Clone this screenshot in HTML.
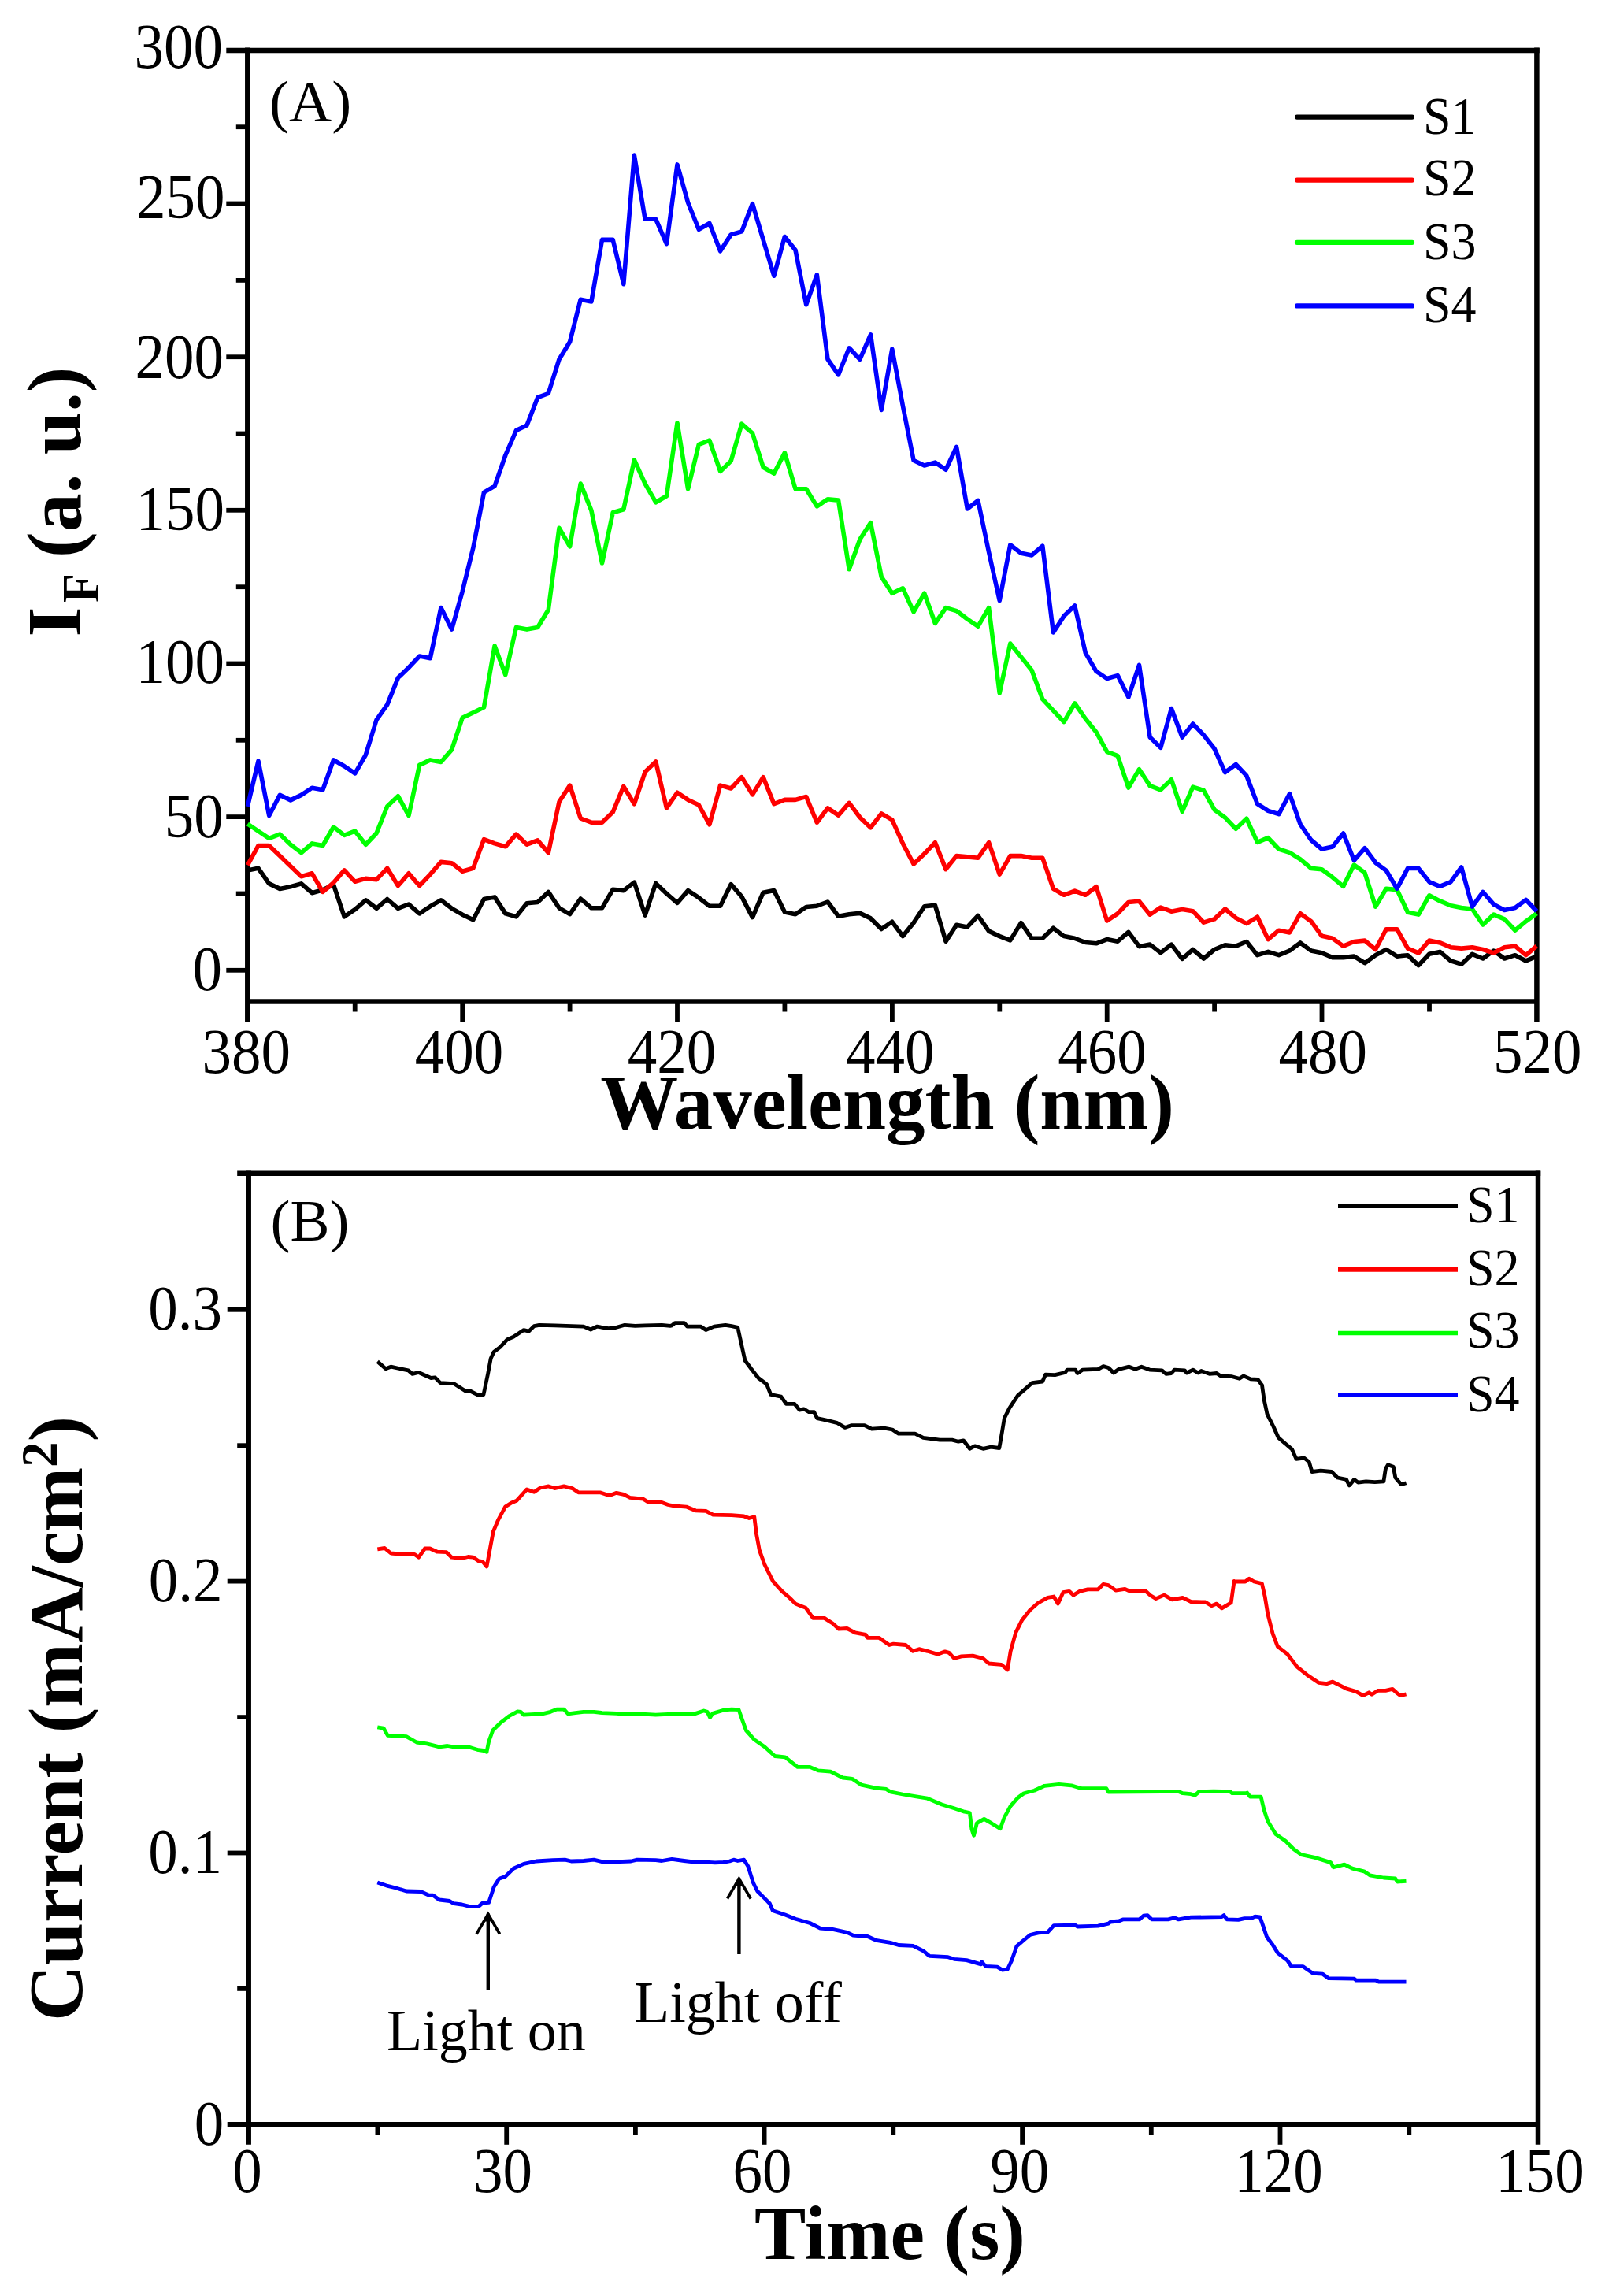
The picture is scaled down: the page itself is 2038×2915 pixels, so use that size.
<!DOCTYPE html>
<html><head><meta charset="utf-8"><title>Figure</title>
<style>html,body{margin:0;padding:0;background:#fff}svg{display:block}text{font-family:"Liberation Serif", serif;fill:#000}</style>
</head><body>
<svg width="2038" height="2915" viewBox="0 0 2038 2915">
<rect width="2038" height="2915" fill="#fff"/>
<line x1="314.3" y1="60.6" x2="314.3" y2="1297.0" stroke="#000" stroke-width="6.5" stroke-linecap="butt"/>
<line x1="1951.4" y1="60.6" x2="1951.4" y2="1297.0" stroke="#000" stroke-width="6.5" stroke-linecap="butt"/>
<line x1="287.3" y1="63.9" x2="1954.7" y2="63.9" stroke="#000" stroke-width="6.5" stroke-linecap="butt"/>
<line x1="314.3" y1="1271.5" x2="1951.4" y2="1271.5" stroke="#000" stroke-width="6.5" stroke-linecap="butt"/>
<line x1="287.3" y1="1231.8" x2="314.3" y2="1231.8" stroke="#000" stroke-width="5.8" stroke-linecap="butt"/>
<line x1="299.8" y1="1134.5" x2="314.3" y2="1134.5" stroke="#000" stroke-width="5.8" stroke-linecap="butt"/>
<line x1="287.3" y1="1037.1" x2="314.3" y2="1037.1" stroke="#000" stroke-width="5.8" stroke-linecap="butt"/>
<line x1="299.8" y1="939.8" x2="314.3" y2="939.8" stroke="#000" stroke-width="5.8" stroke-linecap="butt"/>
<line x1="287.3" y1="842.5" x2="314.3" y2="842.5" stroke="#000" stroke-width="5.8" stroke-linecap="butt"/>
<line x1="299.8" y1="745.2" x2="314.3" y2="745.2" stroke="#000" stroke-width="5.8" stroke-linecap="butt"/>
<line x1="287.3" y1="647.8" x2="314.3" y2="647.8" stroke="#000" stroke-width="5.8" stroke-linecap="butt"/>
<line x1="299.8" y1="550.5" x2="314.3" y2="550.5" stroke="#000" stroke-width="5.8" stroke-linecap="butt"/>
<line x1="287.3" y1="453.2" x2="314.3" y2="453.2" stroke="#000" stroke-width="5.8" stroke-linecap="butt"/>
<line x1="299.8" y1="355.9" x2="314.3" y2="355.9" stroke="#000" stroke-width="5.8" stroke-linecap="butt"/>
<line x1="287.3" y1="258.5" x2="314.3" y2="258.5" stroke="#000" stroke-width="5.8" stroke-linecap="butt"/>
<line x1="299.8" y1="161.2" x2="314.3" y2="161.2" stroke="#000" stroke-width="5.8" stroke-linecap="butt"/>
<line x1="450.7" y1="1271.5" x2="450.7" y2="1284.5" stroke="#000" stroke-width="5.8" stroke-linecap="butt"/>
<line x1="587.2" y1="1271.5" x2="587.2" y2="1297.0" stroke="#000" stroke-width="5.8" stroke-linecap="butt"/>
<line x1="723.6" y1="1271.5" x2="723.6" y2="1284.5" stroke="#000" stroke-width="5.8" stroke-linecap="butt"/>
<line x1="860.0" y1="1271.5" x2="860.0" y2="1297.0" stroke="#000" stroke-width="5.8" stroke-linecap="butt"/>
<line x1="996.4" y1="1271.5" x2="996.4" y2="1284.5" stroke="#000" stroke-width="5.8" stroke-linecap="butt"/>
<line x1="1132.9" y1="1271.5" x2="1132.9" y2="1297.0" stroke="#000" stroke-width="5.8" stroke-linecap="butt"/>
<line x1="1269.3" y1="1271.5" x2="1269.3" y2="1284.5" stroke="#000" stroke-width="5.8" stroke-linecap="butt"/>
<line x1="1405.7" y1="1271.5" x2="1405.7" y2="1297.0" stroke="#000" stroke-width="5.8" stroke-linecap="butt"/>
<line x1="1542.1" y1="1271.5" x2="1542.1" y2="1284.5" stroke="#000" stroke-width="5.8" stroke-linecap="butt"/>
<line x1="1678.5" y1="1271.5" x2="1678.5" y2="1297.0" stroke="#000" stroke-width="5.8" stroke-linecap="butt"/>
<line x1="1815.0" y1="1271.5" x2="1815.0" y2="1284.5" stroke="#000" stroke-width="5.8" stroke-linecap="butt"/>
<text transform="translate(283.0,85.9) scale(1.0,1.06)" font-size="75" text-anchor="end">300</text>
<text transform="translate(285.5,276.6) scale(1.0,1.06)" font-size="75" text-anchor="end">250</text>
<text transform="translate(284.0,480.1) scale(1.0,1.06)" font-size="75" text-anchor="end">200</text>
<text transform="translate(285.0,673.0) scale(1.0,1.06)" font-size="75" text-anchor="end">150</text>
<text transform="translate(285.0,866.6) scale(1.0,1.06)" font-size="75" text-anchor="end">100</text>
<text transform="translate(283.7,1062.8) scale(1.0,1.06)" font-size="75" text-anchor="end">50</text>
<text transform="translate(282.0,1257.1) scale(1.0,1.06)" font-size="75" text-anchor="end">0</text>
<text transform="translate(312.8,1362.0) scale(1.0,1.06)" font-size="75" text-anchor="middle">380</text>
<text transform="translate(583.0,1362.0) scale(1.0,1.06)" font-size="75" text-anchor="middle">400</text>
<text transform="translate(853.0,1362.0) scale(1.0,1.06)" font-size="75" text-anchor="middle">420</text>
<text transform="translate(1130.3,1362.0) scale(1.0,1.06)" font-size="75" text-anchor="middle">440</text>
<text transform="translate(1399.5,1362.0) scale(1.0,1.06)" font-size="75" text-anchor="middle">460</text>
<text transform="translate(1679.8,1362.0) scale(1.0,1.06)" font-size="75" text-anchor="middle">480</text>
<text transform="translate(1952.3,1362.0) scale(1.0,1.06)" font-size="75" text-anchor="middle">520</text>
<text x="1126.5" y="1433.0" font-size="99" text-anchor="middle" font-weight="bold">Wavelength (nm)</text>
<text transform="translate(101.5,808.5) rotate(-90)" font-size="98" font-weight="bold">I</text>
<text transform="translate(125,765) rotate(-90) scale(0.9,1)" font-size="67" font-weight="bold">F</text>
<text transform="translate(101.5,732.5) rotate(-90)" font-size="98" font-weight="bold" xml:space="preserve"> (a. u.)</text>
<text x="342.0" y="154.0" font-size="75" text-anchor="start">(A)</text>
<line x1="1647.0" y1="148.6" x2="1793.0" y2="148.6" stroke="#000" stroke-width="6.2" stroke-linecap="round"/>
<text transform="translate(1807.0,170.3) scale(1.0,1.05)" font-size="64" text-anchor="start">S1</text>
<line x1="1647.0" y1="228.6" x2="1793.0" y2="228.6" stroke="#ff0000" stroke-width="6.2" stroke-linecap="round"/>
<text transform="translate(1807.0,248.2) scale(1.0,1.05)" font-size="64" text-anchor="start">S2</text>
<line x1="1647.0" y1="307.8" x2="1793.0" y2="307.8" stroke="#00ff00" stroke-width="6.2" stroke-linecap="round"/>
<text transform="translate(1807.0,328.6) scale(1.0,1.05)" font-size="64" text-anchor="start">S3</text>
<line x1="1647.0" y1="388.4" x2="1793.0" y2="388.4" stroke="#0000ff" stroke-width="6.2" stroke-linecap="round"/>
<text transform="translate(1807.0,409.2) scale(1.0,1.05)" font-size="64" text-anchor="start">S4</text>
<polyline points="314.4,1104.9 328.0,1102.3 341.7,1121.9 355.3,1128.4 369.0,1125.8 382.6,1121.9 396.2,1133.7 409.9,1129.8 423.5,1123.2 437.2,1163.8 450.8,1154.6 464.4,1142.8 478.1,1153.3 491.7,1141.5 505.4,1153.3 519.0,1148.1 532.6,1159.9 546.3,1150.7 559.9,1142.8 573.6,1153.3 587.2,1161.2 600.8,1167.7 614.5,1141.5 628.1,1138.9 641.8,1159.9 655.4,1163.8 669.0,1146.8 682.7,1145.5 696.3,1132.4 710.0,1152.8 723.6,1160.7 737.2,1141.0 750.9,1152.8 764.5,1152.8 778.2,1129.3 791.8,1130.6 805.4,1120.1 819.1,1162.0 832.7,1121.4 846.4,1134.5 860.0,1146.3 873.6,1130.6 887.3,1139.7 900.9,1150.2 914.6,1150.2 928.2,1122.7 941.8,1138.4 955.5,1164.6 969.1,1133.2 982.8,1130.6 996.4,1158.1 1010.0,1160.7 1023.7,1151.5 1037.3,1150.2 1051.0,1145.0 1064.6,1163.3 1078.2,1160.7 1091.9,1159.4 1105.5,1165.9 1119.2,1179.5 1132.8,1170.3 1146.4,1188.6 1160.1,1171.6 1173.7,1150.7 1187.4,1149.4 1201.0,1195.2 1214.6,1174.2 1228.3,1176.9 1241.9,1162.5 1255.6,1182.1 1269.2,1188.6 1282.8,1193.9 1296.5,1171.6 1310.1,1191.3 1323.8,1191.3 1337.4,1178.2 1351.0,1188.6 1364.7,1191.3 1378.3,1196.5 1392.0,1197.8 1405.6,1192.6 1419.2,1195.2 1432.9,1183.4 1446.5,1201.7 1460.2,1199.1 1473.8,1209.6 1487.4,1199.1 1501.1,1217.4 1514.7,1205.5 1528.4,1217.0 1542.0,1205.5 1555.6,1199.8 1569.3,1201.2 1582.9,1195.5 1596.6,1212.7 1610.2,1208.4 1623.8,1212.7 1637.5,1207.0 1651.1,1196.9 1664.8,1207.0 1678.4,1209.8 1692.0,1215.6 1705.7,1215.6 1719.3,1214.1 1733.0,1222.7 1746.6,1212.7 1760.2,1205.5 1773.9,1214.1 1787.5,1212.7 1801.2,1225.6 1814.8,1211.3 1828.4,1208.4 1842.1,1219.9 1855.7,1224.2 1869.4,1211.3 1883.0,1217.0 1896.6,1207.0 1910.3,1217.0 1923.9,1212.7 1937.6,1219.9 1951.2,1214.1" fill="none" stroke="#000" stroke-width="5.6" stroke-linejoin="round" stroke-linecap="butt"/>
<polyline points="314.4,1098.4 328.0,1073.5 341.7,1073.5 355.3,1086.6 369.0,1099.7 382.6,1112.7 396.2,1108.8 409.9,1132.4 423.5,1120.6 437.2,1104.9 450.8,1119.3 464.4,1115.4 478.1,1116.7 491.7,1102.3 505.4,1124.5 519.0,1108.8 532.6,1124.5 546.3,1110.1 559.9,1094.4 573.6,1095.7 587.2,1106.2 600.8,1102.3 614.5,1065.6 628.1,1070.9 641.8,1074.8 655.4,1059.1 669.0,1072.2 682.7,1066.9 696.3,1082.6 710.0,1018.0 723.6,997.1 737.2,1039.0 750.9,1044.2 764.5,1044.2 778.2,1031.1 791.8,998.4 805.4,1020.7 819.1,980.1 832.7,967.0 846.4,1025.9 860.0,1006.3 873.6,1015.4 887.3,1022.0 900.9,1046.8 914.6,997.1 928.2,1001.0 941.8,986.6 955.5,1008.9 969.1,986.6 982.8,1020.7 996.4,1015.4 1010.0,1015.4 1023.7,1011.5 1037.3,1044.2 1051.0,1025.9 1064.6,1035.1 1078.2,1019.4 1091.9,1037.7 1105.5,1050.8 1119.2,1032.9 1132.8,1040.8 1146.4,1070.9 1160.1,1097.0 1173.7,1084.0 1187.4,1069.6 1201.0,1103.6 1214.6,1086.6 1228.3,1087.9 1241.9,1089.2 1255.6,1069.6 1269.2,1110.1 1282.8,1086.6 1296.5,1086.6 1310.1,1089.2 1323.8,1089.2 1337.4,1128.4 1351.0,1136.3 1364.7,1131.1 1378.3,1136.3 1392.0,1125.8 1405.6,1169.0 1419.2,1159.9 1432.9,1145.5 1446.5,1144.2 1460.2,1161.2 1473.8,1152.0 1487.4,1157.2 1501.1,1154.6 1514.7,1156.8 1528.4,1171.2 1542.0,1166.9 1555.6,1154.0 1569.3,1165.4 1582.9,1172.6 1596.6,1164.0 1610.2,1192.6 1623.8,1181.2 1637.5,1184.0 1651.1,1159.7 1664.8,1169.7 1678.4,1188.3 1692.0,1191.2 1705.7,1201.2 1719.3,1195.5 1733.0,1194.1 1746.6,1205.5 1760.2,1179.8 1773.9,1179.8 1787.5,1204.1 1801.2,1209.8 1814.8,1194.1 1828.4,1196.9 1842.1,1202.7 1855.7,1204.1 1869.4,1202.7 1883.0,1205.5 1896.6,1209.8 1910.3,1202.7 1923.9,1201.2 1937.6,1212.7 1951.2,1201.2" fill="none" stroke="#ff0000" stroke-width="5.6" stroke-linejoin="round" stroke-linecap="butt"/>
<polyline points="314.4,1046.0 328.0,1055.2 341.7,1064.3 355.3,1059.1 369.0,1072.2 382.6,1082.6 396.2,1070.9 409.9,1073.5 423.5,1049.9 437.2,1060.4 450.8,1055.2 464.4,1072.2 478.1,1057.8 491.7,1023.8 505.4,1010.7 519.0,1035.5 532.6,971.4 546.3,964.9 559.9,967.5 573.6,951.8 587.2,911.2 600.8,904.7 614.5,898.1 628.1,820.0 641.8,856.7 655.4,796.5 669.0,799.1 682.7,796.5 696.3,774.2 710.0,670.4 723.6,693.9 737.2,614.1 750.9,648.1 764.5,714.9 778.2,650.8 791.8,646.8 805.4,584.0 819.1,614.1 832.7,637.7 846.4,629.8 860.0,536.9 873.6,620.7 887.3,564.4 900.9,559.2 914.6,598.4 928.2,585.3 941.8,538.2 955.5,550.0 969.1,593.2 982.8,601.0 996.4,574.9 1010.0,620.7 1023.7,620.7 1037.3,642.9 1051.0,633.7 1064.6,635.1 1078.2,722.7 1091.9,684.8 1105.5,663.8 1119.2,732.4 1132.8,753.3 1146.4,746.8 1160.1,776.9 1173.7,753.3 1187.4,791.3 1201.0,771.6 1214.6,775.6 1228.3,786.0 1241.9,795.2 1255.6,771.6 1269.2,879.8 1282.8,817.0 1296.5,834.0 1310.1,851.0 1323.8,887.7 1337.4,902.1 1351.0,916.5 1364.7,892.9 1378.3,912.5 1392.0,929.5 1405.6,954.4 1419.2,959.6 1432.9,1000.2 1446.5,976.7 1460.2,997.6 1473.8,1002.8 1487.4,989.7 1501.1,1030.3 1514.7,999.2 1528.4,1003.5 1542.0,1027.9 1555.6,1037.9 1569.3,1052.2 1582.9,1039.3 1596.6,1069.4 1610.2,1063.7 1623.8,1078.0 1637.5,1082.3 1651.1,1090.9 1664.8,1102.4 1678.4,1103.8 1692.0,1113.8 1705.7,1125.3 1719.3,1098.1 1733.0,1108.1 1746.6,1151.1 1760.2,1128.2 1773.9,1129.6 1787.5,1158.3 1801.2,1161.1 1814.8,1136.8 1828.4,1143.9 1842.1,1149.7 1855.7,1152.5 1869.4,1154.0 1883.0,1174.0 1896.6,1161.1 1910.3,1166.9 1923.9,1181.2 1937.6,1169.7 1951.2,1159.7" fill="none" stroke="#00ff00" stroke-width="5.6" stroke-linejoin="round" stroke-linecap="butt"/>
<polyline points="314.4,1023.8 328.0,966.2 341.7,1035.5 355.3,1009.4 369.0,1015.9 382.6,1009.4 396.2,1000.2 409.9,1002.8 423.5,964.9 437.2,972.7 450.8,981.9 464.4,958.3 478.1,913.8 491.7,894.6 505.4,860.6 519.0,847.5 532.6,833.1 546.3,835.7 559.9,771.6 573.6,799.1 587.2,750.7 600.8,695.7 614.5,625.1 628.1,617.2 641.8,578.0 655.4,546.6 669.0,540.0 682.7,504.7 696.3,499.5 710.0,456.2 723.6,434.0 737.2,380.3 750.9,382.9 764.5,304.4 778.2,304.4 791.8,360.7 805.4,197.1 819.1,278.2 832.7,278.2 846.4,309.6 860.0,208.9 873.6,257.3 887.3,291.3 900.9,283.5 914.6,318.8 928.2,297.9 941.8,293.9 955.5,258.6 969.1,304.4 982.8,350.2 996.4,300.5 1010.0,317.5 1023.7,386.8 1037.3,348.9 1051.0,456.2 1064.6,475.8 1078.2,441.8 1091.9,456.2 1105.5,424.8 1119.2,520.4 1132.8,443.2 1146.4,515.2 1160.1,584.5 1173.7,591.0 1187.4,587.1 1201.0,596.3 1214.6,567.5 1228.3,646.0 1241.9,635.5 1255.6,701.0 1269.2,762.5 1282.8,691.8 1296.5,702.3 1310.1,704.9 1323.8,693.1 1337.4,803.0 1351.0,782.1 1364.7,769.0 1378.3,828.8 1392.0,852.3 1405.6,861.5 1419.2,857.6 1432.9,885.1 1446.5,844.5 1460.2,936.1 1473.8,949.2 1487.4,899.5 1501.1,936.1 1514.7,918.9 1528.4,933.3 1542.0,950.5 1555.6,980.6 1569.3,970.5 1582.9,984.9 1596.6,1020.7 1610.2,1029.3 1623.8,1033.6 1637.5,1007.8 1651.1,1046.5 1664.8,1066.5 1678.4,1078.0 1692.0,1075.1 1705.7,1057.9 1719.3,1092.3 1733.0,1076.6 1746.6,1095.2 1760.2,1105.2 1773.9,1128.2 1787.5,1102.4 1801.2,1102.4 1814.8,1119.6 1828.4,1125.3 1842.1,1119.6 1855.7,1100.9 1869.4,1151.1 1883.0,1132.5 1896.6,1148.2 1910.3,1155.4 1923.9,1152.5 1937.6,1142.5 1951.2,1156.8" fill="none" stroke="#0000ff" stroke-width="5.6" stroke-linejoin="round" stroke-linecap="butt"/>
<line x1="315.7" y1="1486.5" x2="315.7" y2="2722.8" stroke="#000" stroke-width="6.5" stroke-linecap="butt"/>
<line x1="1953.0" y1="1486.5" x2="1953.0" y2="2722.8" stroke="#000" stroke-width="6.5" stroke-linecap="butt"/>
<line x1="301.2" y1="1489.8" x2="1956.2" y2="1489.8" stroke="#000" stroke-width="6.5" stroke-linecap="butt"/>
<line x1="288.7" y1="2697.3" x2="1953.0" y2="2697.3" stroke="#000" stroke-width="6.5" stroke-linecap="butt"/>
<line x1="301.2" y1="2524.9" x2="315.7" y2="2524.9" stroke="#000" stroke-width="5.8" stroke-linecap="butt"/>
<line x1="288.7" y1="2352.5" x2="315.7" y2="2352.5" stroke="#000" stroke-width="5.8" stroke-linecap="butt"/>
<line x1="301.2" y1="2180.1" x2="315.7" y2="2180.1" stroke="#000" stroke-width="5.8" stroke-linecap="butt"/>
<line x1="288.7" y1="2007.6" x2="315.7" y2="2007.6" stroke="#000" stroke-width="5.8" stroke-linecap="butt"/>
<line x1="301.2" y1="1835.2" x2="315.7" y2="1835.2" stroke="#000" stroke-width="5.8" stroke-linecap="butt"/>
<line x1="288.7" y1="1662.8" x2="315.7" y2="1662.8" stroke="#000" stroke-width="5.8" stroke-linecap="butt"/>
<line x1="479.4" y1="2697.3" x2="479.4" y2="2710.3" stroke="#000" stroke-width="5.8" stroke-linecap="butt"/>
<line x1="643.2" y1="2697.3" x2="643.2" y2="2722.8" stroke="#000" stroke-width="5.8" stroke-linecap="butt"/>
<line x1="806.9" y1="2697.3" x2="806.9" y2="2710.3" stroke="#000" stroke-width="5.8" stroke-linecap="butt"/>
<line x1="970.6" y1="2697.3" x2="970.6" y2="2722.8" stroke="#000" stroke-width="5.8" stroke-linecap="butt"/>
<line x1="1134.3" y1="2697.3" x2="1134.3" y2="2710.3" stroke="#000" stroke-width="5.8" stroke-linecap="butt"/>
<line x1="1298.1" y1="2697.3" x2="1298.1" y2="2722.8" stroke="#000" stroke-width="5.8" stroke-linecap="butt"/>
<line x1="1461.8" y1="2697.3" x2="1461.8" y2="2710.3" stroke="#000" stroke-width="5.8" stroke-linecap="butt"/>
<line x1="1625.5" y1="2697.3" x2="1625.5" y2="2722.8" stroke="#000" stroke-width="5.8" stroke-linecap="butt"/>
<line x1="1789.3" y1="2697.3" x2="1789.3" y2="2710.3" stroke="#000" stroke-width="5.8" stroke-linecap="butt"/>
<text transform="translate(282.0,1688.4) scale(1.0,1.06)" font-size="75" text-anchor="end">0.3</text>
<text transform="translate(282.5,2033.2) scale(1.0,1.06)" font-size="75" text-anchor="end">0.2</text>
<text transform="translate(282.0,2378.1) scale(1.0,1.06)" font-size="75" text-anchor="end">0.1</text>
<text transform="translate(284.3,2722.9) scale(1.0,1.06)" font-size="75" text-anchor="end">0</text>
<text transform="translate(314.0,2783.0) scale(1.0,1.06)" font-size="75" text-anchor="middle">0</text>
<text transform="translate(638.5,2783.0) scale(1.0,1.06)" font-size="75" text-anchor="middle">30</text>
<text transform="translate(968.0,2783.0) scale(1.0,1.06)" font-size="75" text-anchor="middle">60</text>
<text transform="translate(1294.8,2783.0) scale(1.0,1.06)" font-size="75" text-anchor="middle">90</text>
<text transform="translate(1623.5,2783.0) scale(1.0,1.06)" font-size="75" text-anchor="middle">120</text>
<text transform="translate(1955.5,2783.0) scale(1.0,1.06)" font-size="75" text-anchor="middle">150</text>
<text x="1130.0" y="2867.5" font-size="98" text-anchor="middle" font-weight="bold">Time (s)</text>
<text transform="translate(103.5,2566) rotate(-90)" font-size="98" font-weight="bold">Current (mA/cm<tspan font-size="65" dy="-32">2</tspan><tspan dy="32">)</tspan></text>
<text x="343.5" y="1574.5" font-size="75" text-anchor="start">(B)</text>
<line x1="1699.0" y1="1531.1" x2="1851.0" y2="1531.1" stroke="#000" stroke-width="5.7" stroke-linecap="butt"/>
<text transform="translate(1862.0,1552.2) scale(1.0,1.05)" font-size="64" text-anchor="start">S1</text>
<line x1="1699.0" y1="1611.8" x2="1851.0" y2="1611.8" stroke="#ff0000" stroke-width="5.7" stroke-linecap="butt"/>
<text transform="translate(1862.0,1632.0) scale(1.0,1.05)" font-size="64" text-anchor="start">S2</text>
<line x1="1699.0" y1="1692.5" x2="1851.0" y2="1692.5" stroke="#00ff00" stroke-width="5.7" stroke-linecap="butt"/>
<text transform="translate(1862.0,1711.4) scale(1.0,1.05)" font-size="64" text-anchor="start">S3</text>
<line x1="1699.0" y1="1771.0" x2="1851.0" y2="1771.0" stroke="#0000ff" stroke-width="5.7" stroke-linecap="butt"/>
<text transform="translate(1862.0,1791.8) scale(1.0,1.05)" font-size="64" text-anchor="start">S4</text>
<polyline points="479.3,1728.6 489.7,1737.8 496.3,1735.2 518.5,1739.9 523.7,1744.3 531.6,1742.5 547.3,1749.5 552.5,1748.8 559.1,1755.6 576.1,1756.6 591.8,1766.6 597.0,1766.0 607.5,1771.3 614.0,1770.5 619.3,1745.6 623.2,1724.7 627.1,1716.3 635.0,1710.3 644.1,1700.6 652.0,1697.2 665.1,1688.6 671.6,1690.1 678.2,1683.6 684.7,1682.3 704.3,1682.8 741.0,1684.1 750.1,1688.0 758.0,1684.1 772.4,1686.7 780.2,1686.0 793.3,1682.3 806.4,1683.3 819.5,1682.8 840.4,1682.3 850.9,1683.3 853.1,1682.8 857.0,1679.7 868.8,1679.7 872.7,1684.1 889.7,1684.1 896.3,1688.6 906.7,1684.1 921.1,1682.3 929.0,1683.6 936.8,1685.4 940.8,1703.7 946.0,1727.3 953.8,1737.8 963.0,1749.5 973.5,1757.4 978.7,1770.5 991.8,1773.1 998.3,1782.3 1008.8,1782.3 1015.3,1790.1 1020.6,1788.8 1027.1,1792.7 1033.7,1792.7 1037.6,1800.6 1049.4,1803.2 1062.5,1806.3 1072.9,1812.4 1080.8,1809.7 1097.8,1809.7 1106.9,1814.2 1122.6,1813.1 1133.1,1815.0 1141.0,1820.2 1161.9,1820.2 1172.4,1825.4 1193.3,1828.1 1209.0,1828.1 1216.9,1830.2 1223.4,1828.8 1231.3,1839.3 1237.8,1835.9 1248.3,1839.3 1258.3,1837.2 1268.8,1838.5 1271.4,1824.1 1275.3,1800.6 1281.9,1787.5 1292.3,1771.8 1302.8,1762.6 1310.7,1755.6 1323.7,1754.0 1327.7,1745.1 1339.5,1745.6 1352.5,1742.5 1355.2,1739.1 1365.6,1739.1 1368.2,1743.5 1374.8,1739.1 1394.4,1738.3 1401.0,1734.6 1407.5,1736.5 1414.0,1743.0 1420.6,1738.3 1433.7,1735.2 1441.5,1738.3 1449.4,1735.2 1459.8,1739.1 1475.5,1739.9 1480.8,1744.3 1487.3,1743.5 1491.2,1739.1 1504.3,1739.9 1506.9,1743.0 1514.8,1739.1 1521.3,1743.0 1525.3,1740.4 1535.7,1744.3 1544.9,1743.5 1550.1,1746.9 1564.5,1747.7 1573.7,1750.3 1578.9,1746.9 1588.1,1750.9 1597.2,1751.4 1602.5,1758.7 1605.1,1777.0 1609.0,1795.3 1616.9,1811.0 1623.4,1825.4 1632.6,1833.3 1640.4,1839.8 1646.0,1852.3 1656.0,1851.0 1662.2,1856.0 1665.9,1868.5 1677.1,1867.2 1690.8,1868.5 1698.3,1876.0 1709.5,1878.4 1713.3,1885.9 1719.5,1878.4 1724.5,1882.2 1734.5,1880.9 1745.7,1881.7 1756.9,1880.9 1759.4,1864.7 1762.4,1859.8 1769.3,1862.2 1771.8,1876.0 1779.3,1884.7 1785.5,1882.7" fill="none" stroke="#000" stroke-width="4.8" stroke-linejoin="round" stroke-linecap="butt"/>
<polyline points="479.3,1966.8 488.4,1965.5 496.3,1972.0 510.7,1973.3 526.4,1973.3 531.6,1977.2 539.5,1966.0 546.0,1966.0 555.2,1970.2 566.9,1970.7 573.5,1977.2 586.6,1978.5 594.4,1976.5 601.0,1977.2 607.5,1981.7 612.7,1982.5 618.0,1989.0 621.9,1968.1 626.3,1944.5 632.4,1930.1 641.5,1913.1 649.4,1907.9 655.9,1905.3 669.0,1890.9 678.2,1894.3 686.0,1889.0 696.5,1886.9 704.3,1889.6 716.1,1886.9 726.6,1889.6 734.4,1894.8 761.9,1894.8 773.7,1898.7 782.8,1895.3 792.0,1897.4 799.9,1901.3 816.9,1903.2 822.1,1906.6 837.8,1906.6 848.3,1910.5 855.7,1911.8 871.4,1913.1 883.2,1917.8 896.3,1918.4 905.4,1923.1 929.0,1923.6 944.7,1924.9 951.2,1927.5 957.8,1925.7 960.4,1947.1 964.3,1968.1 970.9,1986.4 981.3,2007.3 993.1,2020.4 1002.3,2028.3 1010.1,2036.1 1023.2,2041.4 1032.4,2054.4 1046.8,2054.4 1057.2,2061.0 1065.1,2068.1 1075.5,2067.5 1086.0,2072.8 1099.1,2075.4 1101.7,2079.3 1116.1,2079.3 1129.2,2088.5 1134.4,2087.2 1150.1,2088.5 1159.3,2096.3 1167.1,2093.7 1177.6,2096.3 1190.7,2100.2 1199.9,2096.8 1205.1,2098.4 1211.6,2105.5 1220.8,2102.9 1235.2,2102.1 1248.3,2105.5 1255.7,2112.0 1271.4,2113.3 1279.3,2119.9 1283.2,2096.3 1289.7,2072.8 1297.6,2057.1 1308.0,2044.0 1318.5,2034.8 1330.3,2028.3 1338.1,2027.0 1343.4,2036.1 1349.9,2021.7 1357.8,2020.4 1363.0,2025.1 1370.9,2020.4 1381.3,2017.8 1394.4,2017.8 1401.0,2011.3 1407.5,2012.6 1416.7,2019.1 1428.4,2017.3 1435.0,2020.4 1454.6,2019.9 1461.1,2025.7 1467.7,2029.6 1478.2,2025.1 1488.6,2030.9 1501.7,2028.3 1512.2,2033.5 1530.5,2034.0 1538.4,2038.7 1544.9,2036.1 1551.4,2041.9 1563.2,2034.8 1567.1,2007.3 1567.5,2008.0 1581.2,2008.0 1586.2,2004.3 1592.4,2008.0 1602.4,2010.5 1606.1,2026.7 1609.8,2049.2 1616.1,2074.1 1622.3,2090.3 1634.8,2100.2 1647.2,2116.4 1659.7,2126.4 1674.6,2136.4 1684.6,2137.6 1692.1,2135.1 1699.6,2138.9 1709.5,2143.9 1722.0,2147.6 1730.7,2152.6 1738.2,2148.8 1741.9,2151.3 1749.4,2146.4 1759.4,2146.4 1768.1,2144.4 1773.1,2148.8 1778.1,2152.6 1785.5,2150.8" fill="none" stroke="#ff0000" stroke-width="4.8" stroke-linejoin="round" stroke-linecap="butt"/>
<polyline points="479.3,2192.9 487.1,2194.2 492.3,2203.4 515.9,2204.7 529.0,2212.0 542.1,2213.8 557.8,2217.8 568.2,2216.5 576.1,2217.8 594.4,2217.8 607.5,2221.7 614.0,2222.5 618.0,2224.3 620.6,2211.2 625.8,2196.8 635.0,2187.7 646.8,2178.5 657.2,2172.8 661.1,2173.3 665.1,2177.2 688.6,2175.9 699.1,2173.3 706.9,2170.1 716.1,2170.1 721.3,2175.9 730.5,2174.6 741.0,2173.3 754.1,2173.3 764.5,2174.6 782.8,2175.4 793.3,2176.4 819.5,2176.4 832.6,2177.2 848.3,2176.4 860.9,2176.4 881.9,2175.9 893.7,2172.0 898.1,2173.3 901.5,2180.6 904.9,2175.4 918.5,2171.2 929.0,2170.1 938.1,2170.7 942.1,2182.4 947.3,2196.8 957.8,2208.6 970.9,2217.8 983.9,2229.5 997.0,2230.9 1012.7,2243.4 1028.4,2243.4 1038.9,2247.9 1054.6,2249.2 1070.3,2257.0 1082.1,2258.3 1093.9,2266.2 1112.2,2270.1 1125.3,2271.4 1130.5,2274.8 1146.2,2278.0 1161.9,2280.6 1177.6,2283.2 1195.9,2291.0 1211.6,2295.8 1224.7,2300.2 1231.3,2301.5 1233.9,2322.5 1236.5,2330.3 1240.4,2314.6 1249.6,2309.4 1259.6,2315.2 1270.1,2321.7 1275.3,2307.3 1283.2,2292.9 1292.3,2282.5 1300.2,2276.7 1313.3,2273.3 1326.4,2267.3 1344.7,2265.4 1360.4,2266.8 1373.5,2270.7 1404.9,2270.7 1407.5,2275.1 1475.5,2274.6 1496.5,2274.6 1501.7,2276.7 1512.2,2277.7 1517.4,2279.3 1522.6,2274.6 1541.0,2274.1 1561.9,2274.6 1564.5,2276.7 1582.8,2276.7 1583.7,2276.1 1587.4,2281.1 1601.1,2281.1 1604.9,2297.3 1609.8,2312.3 1619.8,2328.5 1632.3,2337.2 1642.2,2347.2 1652.2,2354.6 1669.7,2358.4 1689.6,2364.6 1693.3,2370.8 1707.0,2367.1 1717.0,2372.1 1732.0,2375.8 1739.4,2380.8 1756.9,2384.0 1771.8,2385.0 1774.3,2389.0 1785.5,2388.3" fill="none" stroke="#00ff00" stroke-width="4.8" stroke-linejoin="round" stroke-linecap="butt"/>
<polyline points="479.3,2390.0 492.3,2394.4 502.8,2397.0 515.9,2401.0 534.2,2401.5 544.7,2406.2 549.9,2406.2 557.8,2412.0 570.9,2413.5 576.1,2416.7 586.6,2418.0 597.0,2420.6 607.5,2420.6 612.7,2416.1 620.6,2415.4 627.1,2395.7 633.7,2385.3 641.5,2382.6 652.0,2372.2 665.1,2366.4 680.8,2363.0 701.7,2361.7 717.4,2361.2 725.3,2363.0 741.0,2362.5 754.1,2361.2 767.1,2364.3 780.2,2363.8 801.2,2363.0 809.0,2361.2 832.6,2361.7 840.4,2362.5 853.1,2360.4 868.8,2362.5 884.5,2364.3 892.3,2363.8 908.0,2364.9 918.5,2364.3 926.4,2363.0 931.6,2361.2 936.8,2362.5 944.7,2361.2 949.9,2369.6 956.5,2390.5 961.7,2401.0 970.9,2410.1 977.4,2416.7 981.3,2425.8 997.0,2431.1 1010.1,2436.3 1028.4,2441.5 1041.5,2448.1 1057.2,2449.4 1075.5,2453.3 1083.4,2457.2 1101.7,2458.5 1112.2,2463.3 1130.5,2466.4 1141.0,2469.5 1159.3,2470.3 1172.4,2476.9 1180.2,2483.4 1203.8,2484.7 1211.6,2487.3 1227.3,2488.6 1245.7,2493.9 1246.5,2490.5 1251.8,2496.5 1266.2,2497.1 1272.7,2501.0 1279.3,2500.2 1284.5,2489.2 1291.0,2470.9 1300.2,2463.0 1308.0,2456.5 1318.5,2453.9 1330.3,2453.1 1338.1,2444.7 1365.6,2444.2 1368.2,2446.0 1394.4,2445.2 1407.5,2442.1 1410.1,2440.0 1420.6,2439.0 1425.8,2436.9 1446.8,2436.9 1452.0,2432.2 1457.2,2431.6 1462.5,2436.9 1483.4,2436.9 1491.2,2434.8 1496.5,2436.9 1512.2,2434.2 1551.4,2433.7 1554.1,2431.6 1558.0,2436.9 1572.4,2437.4 1580.2,2435.6 1588.7,2435.6 1593.6,2433.1 1599.9,2433.9 1603.6,2444.4 1608.6,2459.3 1616.1,2469.3 1622.3,2479.3 1634.8,2489.2 1639.8,2496.7 1654.7,2496.7 1667.2,2505.4 1679.6,2506.2 1687.1,2511.7 1719.5,2512.1 1722.0,2514.1 1746.9,2514.1 1750.7,2516.1 1785.5,2516.1" fill="none" stroke="#0000ff" stroke-width="4.8" stroke-linejoin="round" stroke-linecap="butt"/>
<line x1="619.8" y1="2429.5" x2="619.8" y2="2526.0" stroke="#000" stroke-width="4.4" stroke-linecap="butt"/>
<polyline points="605.0,2455.5 619.8,2430.0 634.6,2455.5" fill="none" stroke="#000" stroke-width="3.6" stroke-linejoin="miter"/>
<polygon points="619.8,2428.5 614.3,2439.5 625.3,2439.5" fill="#000"/>
<line x1="938.4" y1="2384.5" x2="938.4" y2="2481.0" stroke="#000" stroke-width="4.4" stroke-linecap="butt"/>
<polyline points="923.6,2410.5 938.4,2385.0 953.2,2410.5" fill="none" stroke="#000" stroke-width="3.6" stroke-linejoin="miter"/>
<polygon points="938.4,2383.5 932.9,2394.5 943.9,2394.5" fill="#000"/>
<text x="491.0" y="2602.5" font-size="74" text-anchor="start">Light on</text>
<text x="805.0" y="2567.4" font-size="74" text-anchor="start">Light off</text>
</svg>
</body></html>
